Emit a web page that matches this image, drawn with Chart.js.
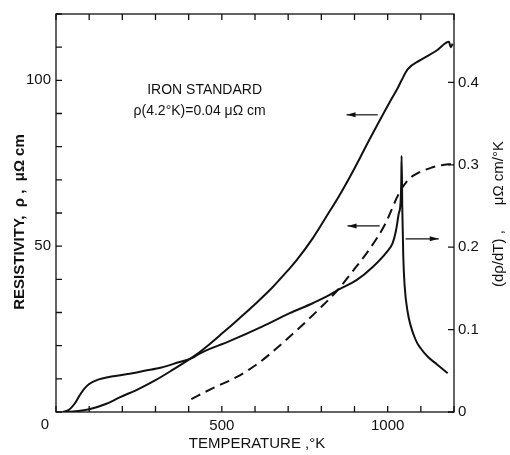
<!DOCTYPE html>
<html>
<head>
<meta charset="utf-8">
<script src="https://cdn.jsdelivr.net/npm/chart.js@4.4.1/dist/chart.umd.min.js"></script>
<style>
  body { margin: 0; background: #fff; }
  #wrap { width: 510px; height: 455px; }
</style>
</head>
<body>
<div id="wrap"><canvas id="resChart" width="510" height="455"></canvas></div>
<script>
// resistivity of iron, uOhm cm (left axis)
const rhoT = [30, 60, 100, 150, 192, 250, 300, 350, 413, 450, 502, 550, 600, 653, 700, 725, 775, 825, 850, 895, 946, 1006, 1030, 1042, 1060, 1097, 1148, 1185, 1190, 1196];
const rho  = [0, 0.2, 0.8, 2.4, 4.4, 7.0, 9.6, 12.6, 16.6, 19.4, 23.8, 28.0, 32.5, 37.6, 42.8, 45.7, 52.5, 60.5, 64.5, 72.5, 82.3, 93.4, 97.6, 100, 103.3, 106, 109, 111.6, 110, 111];

// d rho / dT, uOhm cm / K (right axis)
const dRhoT = [20, 40, 56, 71, 85, 100, 125, 167, 216, 267, 318, 367, 413, 433, 523, 623, 705, 774, 825, 849, 906, 955, 997, 1015, 1025, 1033, 1039, 1041, 1042, 1044, 1047, 1051, 1060, 1084, 1100, 1121, 1148, 1181];
const dRho  = [0, 0.003, 0.010, 0.020, 0.028, 0.034, 0.039, 0.043, 0.046, 0.050, 0.054, 0.060, 0.066, 0.071, 0.086, 0.104, 0.120, 0.132, 0.142, 0.148, 0.160, 0.176, 0.194, 0.205, 0.220, 0.240, 0.255, 0.280, 0.311, 0.250, 0.190, 0.154, 0.122, 0.088, 0.077, 0.067, 0.058, 0.047];

// dashed curve (left axis)
const dashT = [408, 473, 544, 614, 674, 735, 795, 846, 896, 946, 991, 1036, 1060, 1081, 1133, 1163, 1193];
const dash  = [3.9, 7.2, 10.5, 15, 20, 25.5, 31.2, 36.4, 42.6, 49.2, 56.4, 66.3, 69.8, 71.5, 73.7, 74.4, 74.8];

const xLabels = [500, 1000];
const yLabels = [50, 100];

// arrows: [x from, x to, y, head side]  (data units, left axis)
const arrows = [[876, 970, 89.6, 'left'], [879, 976, 56.1, 'left'], [1054, 1154, 52.2, 'right']];

const FONT = '"Liberation Sans", Arial, sans-serif';
const ink = '#111';

const pts = (xs, ys) => xs.map((x, i) => ({ x: x, y: ys[i] }));

const framePlugin = {
    id: 'frame',
    afterDraw(chart) {
        const c = chart.ctx;
        const a = chart.chartArea;
        const sx = chart.scales.x, sy = chart.scales.y, sy2 = chart.scales.y2;
        c.save();
        c.strokeStyle = ink;
        c.lineWidth = 1.3;
        c.strokeRect(a.left, a.top, a.right - a.left, a.bottom - a.top);
        c.beginPath();
        const tl = 6;
        sx.ticks.forEach(t => {
            const px = sx.getPixelForValue(t.value);
            c.moveTo(px, a.bottom); c.lineTo(px, a.bottom - tl);
            c.moveTo(px, a.top); c.lineTo(px, a.top + tl);
        });
        sy.ticks.forEach(t => {
            const py = sy.getPixelForValue(t.value);
            c.moveTo(a.left, py); c.lineTo(a.left + tl, py);
        });
        sy2.ticks.forEach(t => {
            const py = sy2.getPixelForValue(t.value);
            c.moveTo(a.right, py); c.lineTo(a.right - tl, py);
        });
        c.stroke();

        // arrows
        c.lineWidth = 1.2;
        arrows.forEach(([x0, x1, yv, side]) => {
            const p0 = sx.getPixelForValue(x0), p1 = sx.getPixelForValue(x1);
            const py = sy.getPixelForValue(yv);
            c.beginPath(); c.moveTo(p0, py); c.lineTo(p1, py); c.stroke();
            const hx = side === 'left' ? p0 : p1;
            const d = side === 'left' ? 1 : -1;
            c.beginPath();
            c.moveTo(hx, py);
            c.lineTo(hx + d * 9, py - 2.5);
            c.lineTo(hx + d * 9, py + 2.5);
            c.closePath();
            c.fillStyle = ink; c.fill();
        });

        // texts
        c.fillStyle = ink;
        c.textAlign = 'center';
        c.textBaseline = 'middle';
        c.font = '14px ' + FONT;
        c.fillText('IRON STANDARD', sx.getPixelForValue(448), sy.getPixelForValue(97));
        c.fillText('\u03c1(4.2\u00b0K)=0.04 \u03bc\u03a9 cm', sx.getPixelForValue(433), sy.getPixelForValue(90.7));

        c.font = '15px ' + FONT;
        c.fillText('0', 45, 425);
        c.fillText('TEMPERATURE ,\u00b0K', 257, 444);

        c.save();
        c.translate(20, 222);
        c.rotate(-Math.PI / 2);
        c.font = 'bold 15px ' + FONT;
        c.fillText('RESISTIVITY,  \u03c1 ,  \u03bc\u03a9 cm', 0, 0);
        c.restore();

        c.save();
        c.translate(499, 214);
        c.rotate(-Math.PI / 2);
        c.font = '15px ' + FONT;
        c.fillText('(d\u03c1/dT) ,      \u03bc\u03a9 cm/\u00b0K', 0, 0);
        c.restore();
        c.restore();
    }
};

const ctx = document.getElementById('resChart');
new Chart(ctx, {
    type: 'line',
    data: {
        datasets: [
            { data: pts(rhoT, rho), yAxisID: 'y' },
            { data: pts(dRhoT, dRho), yAxisID: 'y2' },
            { data: pts(dashT, dash), yAxisID: 'y', borderDash: [10, 6] }
        ]
    },
    options: {
        responsive: false,
        animation: false,
        layout: { padding: { top: 10, left: 0, right: 0, bottom: 0 } },
        elements: {
            point: { radius: 0 },
            line: { borderColor: ink, borderWidth: 2, cubicInterpolationMode: 'monotone', fill: false }
        },
        plugins: { legend: { display: false }, tooltip: { enabled: false } },
        scales: {
            x: {
                type: 'linear', min: 0, max: 1200,
                grid: { display: false, drawTicks: false }, border: { display: false },
                ticks: {
                    stepSize: 100, padding: 5, color: ink, maxRotation: 0, autoSkip: false,
                    font: { family: FONT, size: 15 },
                    callback: v => xLabels.includes(v) ? String(v) : ''
                },
                afterFit: s => { s.height = 43; }
            },
            y: {
                type: 'linear', position: 'left', min: 0, max: 120,
                grid: { display: false, drawTicks: false }, border: { display: false },
                ticks: {
                    stepSize: 10, padding: 5, color: ink, autoSkip: false,
                    font: { family: FONT, size: 15 },
                    callback: v => yLabels.includes(v) ? String(v) : ''
                },
                afterFit: s => { s.width = 56; }
            },
            y2: {
                type: 'linear', position: 'right', min: 0, max: 0.483,
                grid: { display: false, drawTicks: false }, border: { display: false },
                ticks: {
                    stepSize: 0.1, padding: 4, color: ink, autoSkip: false, includeBounds: false,
                    font: { family: FONT, size: 15 },
                    callback: v => v === 0 ? '0' : v.toFixed(1)
                },
                afterFit: s => { s.width = 56; }
            }
        }
    },
    plugins: [framePlugin]
});
</script>
</body>
</html>
